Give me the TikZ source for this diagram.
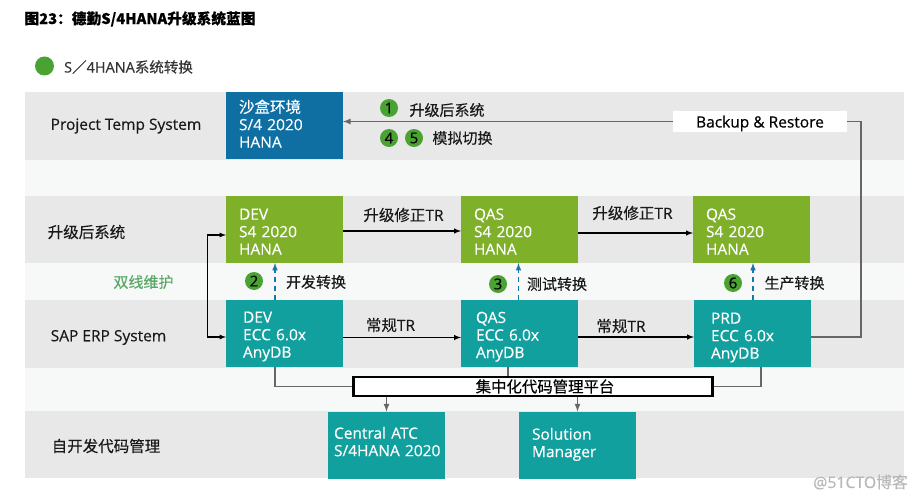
\documentclass[tikz,border=0pt]{standalone}
\usepackage{fontspec}
\setmainfont{Open Sans}[FakeBold=0.4]
\newfontfamily\cjk{Noto Sans CJK SC}[FakeBold=0.3]
\newcommand{\zh}[1]{{\cjk #1}}
\definecolor{bandgrey}{HTML}{E8E8E8}
\definecolor{bandlight}{HTML}{F7F8F8}
\definecolor{tempblue}{HTML}{0F6FA3}
\definecolor{upgreen}{HTML}{7FB02A}
\definecolor{erpteal}{HTML}{12A09E}
\definecolor{stepgreen}{HTML}{4AA232}
\definecolor{linegrey}{HTML}{666666}
\definecolor{dashblue}{HTML}{1A75A8}
\definecolor{dualgreen}{HTML}{5AA868}
\tikzset{
    sysbox/.style={anchor=north west, minimum width=117pt, minimum height=67pt, inner xsep=#1, inner ysep=0pt,
        text width=117pt-2*#1, align=left, text=white, outer sep=0pt, font=\fontsize{15.5}{17.5}\selectfont},
    firstline/.style={text height=0pt, text depth=2*#1},
    stepdot/.style={circle, fill=stepgreen, minimum size=18pt, inner sep=0pt, font=\fontsize{15}{15}\selectfont},
    rowlabel/.style={font=\fontsize{15.5}{18}\selectfont, text=black!90},
    steplabel/.style={font=\fontsize{15}{18}\selectfont, text=black!90},
    trlabel/.style={font=\fontsize{15.5}{18}\selectfont, text=black!90},
    greyline/.style={draw=linegrey, line width=1.6pt},
    trline/.style={draw=black, line width=1.4pt, ->},
    switchline/.style={draw=dashblue, line width=1.5pt, dash pattern=on 5pt off 4pt, ->},
}

\begin{document}
\begin{tikzpicture}[x=1pt, y=-1pt, >=latex]
    \useasboundingbox (0,0) rectangle (918,500);

    \fill[bandlight] (25,92) rectangle (904,478);
    \foreach \ytop/\ybot in {92/160, 195.5/263, 300/368, 411/478}
        \fill[bandgrey] (25,\ytop) rectangle (904,\ybot);

    \draw(140,19) node (title) {\fontsize{14.7}{16}\selectfont\bfseries\cjk 图23：德勤S/4HANA升级系统蓝图};
    \draw(44.5,66) node[circle, fill=stepgreen, minimum size=19pt, inner sep=0pt] (legend) {};
    \draw(128.5,67) node[font=\fontsize{14.5}{18}\selectfont, text=black!80] (legendtext) {S\zh{／}4HANA\zh{系统转换}};

    % row names
    \draw(126,126) node[rowlabel] (rowtemp) {Project Temp System};
    \draw(86.5,232) node[rowlabel] (rowup) {\zh{升级后系统}};
    \draw(108.5,337.5) node[rowlabel] (rowerp) {SAP ERP System};
    \draw(106,446) node[rowlabel] (rowcode) {\zh{自开发代码管理}};
    \draw(143.5,282) node[steplabel, text=dualgreen] (dual) {\zh{双线维护}};

    % systems
    \draw(226,92) node[sysbox=13pt, firstline=12.8pt, fill=tempblue] (temp) {\zh{沙盒环境}\\S/4 2020\\HANA};
    \draw(226,196) node[sysbox=13pt, firstline=9.8pt, fill=upgreen] (updev) {DEV\\S4 2020\\HANA};
    \draw(461,196) node[sysbox=13pt, firstline=9.8pt, fill=upgreen] (upqas) {QAS\\S4 2020\\HANA};
    \draw(693,196) node[sysbox=13pt, firstline=9.8pt, fill=upgreen] (upprd) {QAS\\S4 2020\\HANA};
    \draw(226,300) node[sysbox=17pt, firstline=10.8pt, fill=erpteal] (erpdev) {DEV\\ECC 6.0x\\AnyDB};
    \draw(461,300) node[sysbox=15pt, firstline=10.5pt, fill=erpteal] (erpqas) {QAS\\ECC 6.0x\\AnyDB};
    \draw(694,300) node[sysbox=17pt, firstline=9.8pt, fill=erpteal] (erpprd) {PRD\\ECC 6.0x\\AnyDB};
    \draw(328,411.5) node[sysbox=6pt, firstline=6.3pt, fill=erpteal] (atc) {Central ATC\\\mbox{S/4HANA 2020}};
    \draw(519,411.5) node[sysbox=13pt, firstline=5.3pt, fill=erpteal] (solman) {Solution\\Manager};

    \draw(533,386.5) node[draw=black, fill=white, line width=2.4pt, minimum width=359pt, minimum height=19pt, inner sep=0pt, font=\fontsize{15.4}{16}\selectfont] (code) {\hspace*{24pt}\zh{集中化代码管理平台}};
    \draw(760,121.5) node[fill=white, minimum width=174pt, minimum height=21pt, inner sep=0pt, text height=12pt, text depth=0pt, font=\fontsize{15.5}{18}\selectfont] (backup) {Backup \& Restore};

    % steps
    \draw(389,108) node[stepdot] (one) {1};
    \draw(389,138) node[stepdot] (four) {4};
    \draw(414,138) node[stepdot] (five) {5};
    \draw(254,281) node[stepdot] (two) {2};
    \draw(498,284) node[stepdot] (three) {3};
    \draw(733,283) node[stepdot] (six) {6};
    \draw(447,110) node[steplabel] (steponetext) {\zh{升级后系统}};
    \draw(462.5,138) node[steplabel] (stepfourtext) {\zh{模拟切换}};
    \draw(316,282) node[steplabel] (steptwotext) {\zh{开发转换}};
    \draw(557,284) node[steplabel] (stepthreetext) {\zh{测试转换}};
    \draw(794.5,283) node[steplabel] (stepsixtext) {\zh{生产转换}};

    \draw(403.5,215) node[trlabel] (trupa) {\zh{升级修正}TR};
    \draw(632.5,213) node[trlabel] (trupb) {\zh{升级修正}TR};
    \draw(390.5,325) node[trlabel] (trerpa) {\zh{常规}TR};
    \draw(621,326) node[trlabel] (trerpb) {\zh{常规}TR};

    \coordinate (devx) at (275,0);
    \coordinate (qasx) at (518.5,0);
    \coordinate (prdx) at (753,0);
    \coordinate (qasdrop) at (508,0);
    \coordinate (prddrop) at (761,0);
    \coordinate (rightx) at (861,0);
    \coordinate (leftx) at (207.5,0);

    % transports
    \draw[trline] ([yshift=-1.5pt]updev.east) -- ([yshift=-1.5pt]upqas.west);
    \draw[trline] ([yshift=-3.5pt]upqas.east) -- ([yshift=-3.5pt]upprd.west);
    \draw[trline] ([yshift=-4pt]erpdev.east) -- ([yshift=-4pt]erpqas.west);
    \draw[trline] ([yshift=-3.5pt]erpqas.east) -- ([yshift=-3.5pt]erpprd.west);
    \draw[draw=black, line width=1.2pt, <->] ([yshift=-5.5pt]updev.west) -- ([yshift=-5.5pt]updev.west -| leftx) -- ([yshift=-3.5pt]erpdev.west -| leftx) -- ([yshift=-3.5pt]erpdev.west);

    % conversions
    \draw[switchline] (devx |- erpdev.north) -- (devx |- updev.south);
    \draw[switchline] (qasx |- erpqas.north) -- (qasx |- upqas.south);
    \draw[switchline] (prdx |- erpprd.north) -- (prdx |- upprd.south);

    % backup path
    \draw[greyline, ->] (backup.west) -- (backup.west -| temp.east);
    \draw[greyline] (backup.east) -- (backup.east -| rightx) -- ([yshift=-3.5pt]erpprd.east -| rightx) -- ([yshift=-3.5pt]erpprd.east);

    % code platform
    \draw[greyline] (devx |- erpdev.south) |- (code.west);
    \draw[greyline] (qasdrop |- erpqas.south) -- (qasdrop |- code.north);
    \draw[greyline] (prddrop |- erpprd.south) |- (code.east);
    \draw[greyline, ->] (code.south -| atc.north) -- (atc.north);
    \draw[greyline, ->] (code.south -| solman.north) -- (solman.north);

    \draw(860.5,482) node[font=\fontsize{15.8}{16}\selectfont, text=black!28] (mark) {@51CTO\zh{博客}};
\end{tikzpicture}
\end{document}
